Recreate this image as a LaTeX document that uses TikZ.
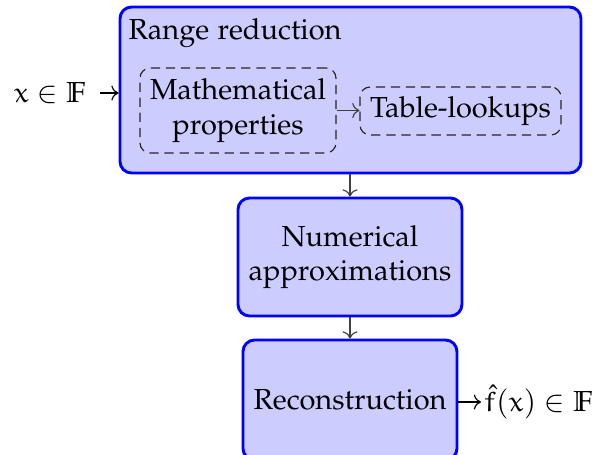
\documentclass[tikz,border=0pt]{standalone}
\usepackage[T1]{fontenc}
\usepackage{amssymb}
\usepackage[sc]{mathpazo}
\DeclareMathAlphabet{\eulr}{U}{eur}{m}{n}
\usetikzlibrary{arrows.meta}
\newcommand\pxu{0.345pt}
\tikzset{
  bluebox/.style={draw=blue, line width=1pt, fill=blue!20, rounded corners=4pt, inner sep=0pt, align=center},
  dashbox/.style={draw=black!85, thin, dash pattern=on 3.2pt off 2pt, rounded corners=3.5pt, inner sep=0pt, align=center},
  flow/.style={->, black!75, thin},
  ioarrow/.style={->, black, thin},
  side/.style={inner sep=0pt}
}
\begin{document}
\begin{tikzpicture}[x=\pxu, y=-\pxu]
\useasboundingbox (0,0) rectangle (597,455);
\node[bluebox, minimum width={461*\pxu}, minimum height={166*\pxu}] (rr) at (350.5,90) {};
\node[anchor=north west, inner sep=0pt] (rrlabel) at (128,18) {Range reduction};
\node[dashbox, minimum width={196*\pxu}, minimum height={85*\pxu}] (math) at (238,110.5) {Mathematical\\properties};
\node[dashbox, minimum width={201*\pxu}, minimum height={48*\pxu}] (tab) at (460.5,111) {Table-lookups};
\draw[flow] (math.east) -- (tab.west |- math.east);
\node[bluebox, minimum width={224*\pxu}, minimum height={118*\pxu}] (num) at (350,257) {Numerical\\approximations};
\node[bluebox, minimum width={214*\pxu}, minimum height={120*\pxu}] (rec) at (350,400) {Reconstruction};
\draw[flow] (rr.south -| num.north) -- (num.north);
\draw[flow] (num.south) -- (rec.north);
\node[side, anchor=west, outer xsep={14*\pxu}] (in) at (0,93) {$\eulr{x}\in\mathbb{F}$};
\draw[ioarrow] (in.east) -- (in.east -| rr.west);
\node[side, anchor=west, outer xsep={3*\pxu}] (out) at (481,402) {$\hat{\eulr{f}}(\eulr{x})\in\mathbb{F}$};
\draw[ioarrow] (out.west -| rec.east) -- (out.west);
\end{tikzpicture}
\end{document}
